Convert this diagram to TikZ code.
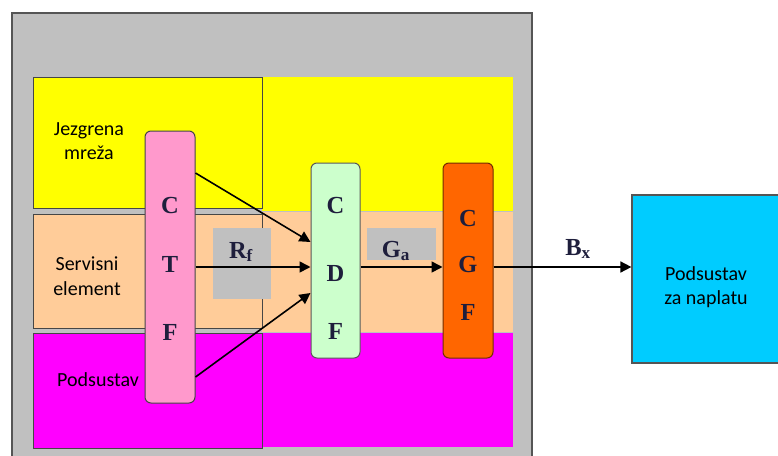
\documentclass[tikz,border=0pt]{standalone}
\usepackage{fontspec}
\setmainfont{Carlito}
\newfontfamily\letterfont{Liberation Serif Bold}
\usetikzlibrary{arrows.meta}
\definecolor{outgray}{RGB}{192,192,192}
\definecolor{framegray}{RGB}{85,85,85}
\definecolor{bordergray}{RGB}{70,70,70}
\definecolor{ylw}{RGB}{255,255,0}
\definecolor{peach}{RGB}{255,204,153}
\definecolor{mag}{RGB}{255,0,255}
\definecolor{pinkb}{RGB}{255,153,204}
\definecolor{mint}{RGB}{204,255,204}
\definecolor{orng}{RGB}{255,102,0}
\definecolor{cyanb}{RGB}{0,204,255}
\definecolor{navy}{RGB}{30,30,60}
\tikzset{
  bandbox/.style={draw=bordergray, line width=1pt},
  colbox/.style={draw=bordergray, line width=1pt, rounded corners=6pt, inner sep=0pt},
  grayslot/.style={fill=outgray, inner sep=0pt},
  letter/.style={font=\letterfont\fontsize{24.5}{24.5}\selectfont, text=navy, inner sep=0pt},
  sanslabel/.style={font=\fontsize{20}{24.5}\selectfont, align=center, inner sep=0pt},
  arr/.style={line width=1.6pt, -{Triangle[length=11pt,width=11pt]}}
}
\begin{document}
\begin{tikzpicture}[x=1pt,y=-1pt]
\useasboundingbox (0,0) rectangle (778,455);
\clip (0,0) rectangle (778,455);
\fill[white] (0,0) rectangle (778,455);
% outer gray frame
\draw[fill=outgray, draw=framegray, line width=1.8pt] (12,13) rectangle (532,475);
% right bands
\fill[ylw] (262,77) rectangle (513,210.5);
\fill[peach] (262,211.5) rectangle (513,331.5);
\fill[mag] (262,332.5) rectangle (513,447);
% left boxes
\draw[bandbox, fill=ylw] (33,77) rectangle (262,208);
\draw[bandbox, fill=peach] (33,214) rectangle (262,328);
\draw[bandbox, fill=mag] (33,333) rectangle (262,448);
% gray label slots
\node[grayslot, minimum width=58pt, minimum height=71pt] (rfbox) at (242,263.5) {};
\node[grayslot, minimum width=69pt, minimum height=32pt] (gabox) at (401.5,244) {};
% side labels
\node[sanslabel] (core) at (89,141) {Jezgrena\\mreža};
\node[sanslabel] (service) at (87,276) {Servisni\\element};
\node[sanslabel, anchor=west] (subsys) at (57,380) {Podsustav};
% function boxes
\node[colbox, fill=pinkb, minimum width=50pt, minimum height=272pt] (ctf) at (170,267) {};
\node[colbox, fill=mint, draw=gray!70!black, minimum width=49pt, minimum height=195pt] (cdf) at (335.5,260.5) {};
\node[colbox, fill=orng, draw=orng!45!black, minimum width=50pt, minimum height=195pt] (cgf) at (468,260.5) {};
% billing box
\node[draw=framegray, line width=1.2pt, fill=cyanb, minimum width=160pt, minimum height=168pt, inner sep=0pt] (billing) at (712,279) {};
\node[sanslabel] (billtext) at (706,287) {Podsustav\\za naplatu};
% letters
\node[letter] (ctfC) at (170,206) {C};
\node[letter] (ctfT) at (170,264) {T};
\node[letter] (ctfF) at (170,332) {F};
\node[letter] (cdfC) at (335.5,206) {C};
\node[letter] (cdfD) at (335.5,273) {D};
\node[letter] (cdfF) at (335.5,331) {F};
\node[letter] (cgfC) at (468,219) {C};
\node[letter] (cgfG) at (468,265) {G};
\node[letter] (cgfF) at (468,312) {F};
% arrows
\draw[arr] ([yshift=94pt]ctf.east) -- ([yshift=18.5pt]cdf.west);
\draw[arr] (ctf.east) -- (ctf.east -| cdf.west);
\draw[arr] ([yshift=-110pt]ctf.east) -- ([yshift=-32.5pt]cdf.west);
\draw[arr] (cdf.east |- ctf.east) -- (cgf.west |- ctf.east);
\draw[arr] (cgf.east |- ctf.east) -- (billing.west |- ctf.east);
% flow labels
\node[letter] (rf) at (241,252) {R\textsubscript{f}};
\node[letter] (ga) at (396,251) {G\textsubscript{a}};
\node[letter] (bx) at (578,249) {B\textsubscript{x}};
\end{tikzpicture}
\end{document}
